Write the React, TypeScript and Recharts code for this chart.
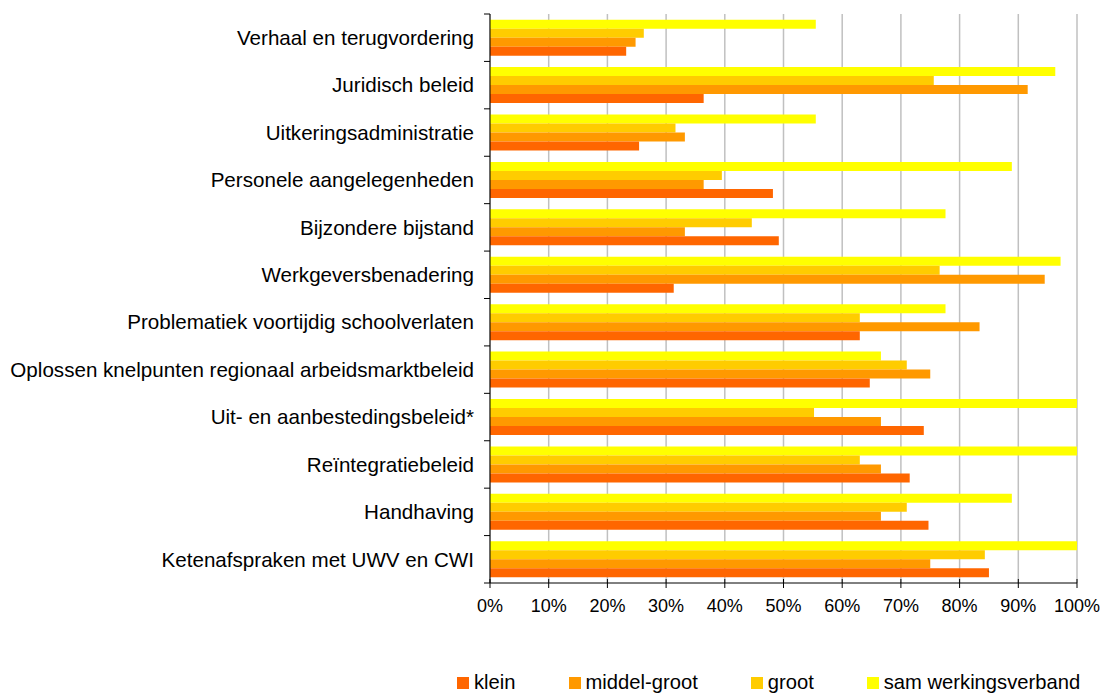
import React from 'react';
import { BarChart, Bar, XAxis, YAxis, CartesianGrid } from 'recharts';

// categories, top to bottom
const categories = [
  'Verhaal en terugvordering',
  'Juridisch beleid ',
  'Uitkeringsadministratie',
  'Personele aangelegenheden',
  'Bijzondere bijstand',
  'Werkgeversbenadering',
  'Problematiek voortijdig schoolverlaten',
  'Oplossen knelpunten regionaal arbeidsmarktbeleid',
  'Uit- en aanbestedingsbeleid*',
  'Reïntegratiebeleid',
  'Handhaving',
  'Ketenafspraken met UWV en CWI',
];

// percentages per series
const klein = [23.2, 36.4, 25.4, 48.2, 49.2, 31.3, 63.0, 64.7, 73.9, 71.5, 74.7, 85.0];
const middelGroot = [24.8, 91.6, 33.2, 36.4, 33.2, 94.5, 83.4, 75.0, 66.6, 66.6, 66.6, 75.0];
const groot = [26.2, 75.6, 31.6, 39.5, 44.6, 76.6, 63.0, 71.0, 55.2, 63.0, 71.0, 84.3];
const samWerkingsverband = [55.5, 96.3, 55.5, 88.9, 77.6, 97.2, 77.6, 66.6, 100, 100, 88.9, 100];

const xTicks = [0, 10, 20, 30, 40, 50, 60, 70, 80, 90, 100];

// legend order differs from the bar order inside a group
const series = [
  { key: 'klein', name: 'klein', color: '#FF6600', values: klein },
  { key: 'middel', name: 'middel-groot', color: '#FF9900', values: middelGroot },
  { key: 'groot', name: 'groot', color: '#FFCC00', values: groot },
  { key: 'sam', name: 'sam werkingsverband', color: '#FFFF00', values: samWerkingsverband },
];

const data = categories.map((cat, i) => {
  const row: Record<string, string | number> = { cat };
  series.forEach((s) => {
    row[s.key] = s.values[i];
  });
  return row;
});

const W = 1106;
const H = 694;
const TOP = 14;
const X_AXIS_H = 111;
const Y_AXIS_W = 490;
const BAND = (H - TOP - X_AXIS_H) / categories.length;
const FONT = '"Liberation Sans", Arial, sans-serif';

function CategoryTick(props: any) {
  const { x, y, payload, index } = props;
  const ax = x + 8;
  return (
    <g>
      {index === 0 && <line x1={ax - 6} x2={ax} y1={y - BAND / 2} y2={y - BAND / 2} stroke="#000" />}
      <line x1={ax - 6} x2={ax} y1={y + BAND / 2} y2={y + BAND / 2} stroke="#000" />
      <text x={x - 8} y={y} dy="0.35em" textAnchor="end" fill="#000" fontSize={20.6} fontFamily={FONT}>
        {payload.value}
      </text>
    </g>
  );
}

// x ticks cross the axis line, as in the original
function PercentTick(props: any) {
  const { x, y, payload } = props;
  const ay = y - 16;
  return (
    <g>
      <line x1={x} x2={x} y1={ay - 4} y2={ay + 5} stroke="#000" />
      <text x={x} y={y} dy="0.71em" textAnchor="middle" fill="#000" fontSize={18} fontFamily={FONT}>
        {`${payload.value}%`}
      </text>
    </g>
  );
}

export default function App() {
  const barOrder = [...series].reverse();
  return (
    <div style={{ position: 'absolute', left: 0, top: 0, width: W, height: H, background: '#fff' }}>
      <BarChart
        width={W}
        height={H}
        data={data}
        layout="vertical"
        margin={{ top: TOP, right: 29, bottom: 0, left: 0 }}
        barCategoryGap="12%"
        barGap={0}
      >
        <CartesianGrid horizontal={false} stroke="#C0C0C0" strokeWidth={1.5} />
        <XAxis
          type="number"
          domain={[0, 100]}
          ticks={xTicks}
          height={X_AXIS_H}
          axisLine={{ stroke: '#000' }}
          tickLine={false}
          tickSize={5}
          tickMargin={11}
          tick={<PercentTick />}
          interval={0}
        />
        <YAxis
          type="category"
          dataKey="cat"
          width={Y_AXIS_W}
          axisLine={{ stroke: '#000' }}
          tickLine={false}
          tick={<CategoryTick />}
          interval={0}
        />
        {barOrder.map((s) => (
          <Bar key={s.key} dataKey={s.key} name={s.name} fill={s.color} isAnimationActive={false} />
        ))}
      </BarChart>
      <div
        style={{
          position: 'absolute',
          left: 457,
          top: 671,
          width: 640,
          display: 'flex',
          alignItems: 'center',
          whiteSpace: 'nowrap',
          fontFamily: FONT,
          fontSize: 20.2,
          lineHeight: '23px',
          color: '#000',
        }}
      >
        {series.map((s, i) => (
          <div
            key={s.key}
            style={{ display: 'flex', alignItems: 'center', flexShrink: 0, marginRight: i < series.length - 1 ? 53 : 0 }}
          >
            <span style={{ width: 12, height: 12, background: s.color, marginRight: 5, display: 'inline-block' }} />
            <span>{s.name}</span>
          </div>
        ))}
      </div>
    </div>
  );
}
